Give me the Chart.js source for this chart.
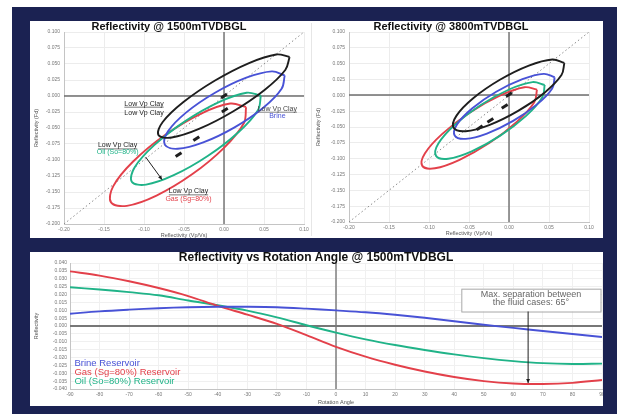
<!DOCTYPE html>
<html>
<head>
<meta charset="utf-8">
<script src="https://cdn.jsdelivr.net/npm/chart.js@4.4.0/dist/chart.umd.min.js"></script>
<style>
  body { margin: 0; background: #fff; width: 624px; height: 414px; overflow: hidden; position: relative; }
  .frame { position: absolute; left: 12px; top: 7px; width: 605px; height: 407px; background: #1b2252; }
  .panel { position: absolute; background: #fff; }
  canvas { position: absolute; }
</style>
</head>
<body>
<div class="frame"></div>
<div class="panel" style="left:30px;top:21px;width:573px;height:217px"></div>
<div class="panel" style="left:30px;top:252px;width:573px;height:154px"></div>
<div style="position:absolute;left:311px;top:23px;width:1px;height:213px;background:#e6e6e6"></div>
<canvas id="shallow" width="281" height="217" style="left:30px;top:21px"></canvas>
<canvas id="deep" width="291" height="217" style="left:312px;top:21px"></canvas>
<canvas id="rotation" width="573" height="154" style="left:30px;top:252px"></canvas>
<script>
// ---- 1500m crossplot: ellipse outlines (x, y) ----
const shallowClay = [[0.082,0.061],[0.0654,0.0649],[0.0313,0.0515],[-0.0112,0.0242],[-0.0507,-0.0095],[-0.0766,-0.0407],[-0.082,-0.061],[-0.0654,-0.0649],[-0.0313,-0.0515],[0.0112,-0.0242],[0.0507,0.0095],[0.0766,0.0407],[0.082,0.061]];
const shallowBrine = [[0.0759,0.0322],[0.0598,0.0385],[0.0279,0.0286],[-0.0112,0.0051],[-0.0471,-0.0256],[-0.0700,-0.0553],[-0.0739,-0.0762],[-0.0578,-0.0825],[-0.0259,-0.0726],[0.0132,-0.0491],[0.0491,-0.0184],[0.0720,0.0113],[0.0759,0.0322]];
const shallowOil = [[0.0461,0.0005],[0.0282,0.0051],[-0.0064,-0.0096],[-0.0488,-0.0396],[-0.0872,-0.0768],[-0.1116,-0.1113],[-0.1153,-0.1339],[-0.0974,-0.1385],[-0.0628,-0.1238],[-0.0204,-0.0938],[0.0180,-0.0566],[0.0424,-0.0221],[0.0461,0.0005]];
const shallowGas = [[0.0276,-0.0172],[0.0078,-0.0118],[-0.0292,-0.0278],[-0.0737,-0.0610],[-0.1136,-0.1024],[-0.1384,-0.1408],[-0.1412,-0.1662],[-0.1214,-0.1716],[-0.0844,-0.1556],[-0.0399,-0.1224],[0.0000,-0.0810],[0.0248,-0.0426],[0.0276,-0.0172]];
const shallowCentres = [[0,0],[0.001,-0.022],[-0.0346,-0.0667],[-0.0568,-0.0917]];

// ---- 3800m crossplot ----
const deepClay = [[0.0692,0.0512],[0.0542,0.0566],[0.0248,0.0470],[-0.0114,0.0246],[-0.0444,-0.0042],[-0.0656,-0.0320],[-0.0692,-0.0512],[-0.0542,-0.0566],[-0.0248,-0.0470],[0.0114,-0.0246],[0.0444,0.0042],[0.0656,0.0320],[0.0692,0.0512]];
const deepBrine = [[0.0571,0.0286],[0.0434,0.0339],[0.0168,0.0255],[-0.0160,0.0056],[-0.0458,-0.0205],[-0.0648,-0.0457],[-0.0679,-0.0634],[-0.0542,-0.0687],[-0.0276,-0.0603],[0.0052,-0.0404],[0.0350,-0.0143],[0.0540,0.0109],[0.0571,0.0286]];
const deepOil = [[0.0446,0.0164],[0.0293,0.0209],[0.0000,0.0092],[-0.0357,-0.0156],[-0.0680,-0.0468],[-0.0883,-0.0761],[-0.0912,-0.0956],[-0.0759,-0.1001],[-0.0466,-0.0884],[-0.0109,-0.0636],[0.0214,-0.0324],[0.0417,-0.0031],[0.0446,0.0164]];
const deepGas = [[0.0350,0.0090],[0.0192,0.0128],[-0.0116,-0.0006],[-0.0492,-0.0274],[-0.0834,-0.0608],[-0.1050,-0.0914],[-0.1084,-0.1114],[-0.0926,-0.1152],[-0.0618,-0.1018],[-0.0242,-0.0750],[0.0100,-0.0416],[0.0316,-0.0110],[0.0350,0.0090]];
const deepCentres = [[0,0.001],[-0.0054,-0.0174],[-0.0233,-0.0396],[-0.0367,-0.0512]];

const diagonal = [-0.2, 0.1];

// ---- reflectivity vs rotation angle ----
const angles = [-90,-80,-70,-60,-50,-40,-30,-20,-10,0,10,20,30,40,50,60,70,80,90];
const brine = [0.0078,0.0093,0.0104,0.0113,0.0119,0.0122,0.0122,0.0119,0.0110,0.0099,0.0087,0.0071,0.0052,0.0030,0.0008,-0.0012,-0.0032,-0.0051,-0.0070];
const gas = [0.0347,0.0320,0.0284,0.0241,0.0190,0.0128,0.0072,0.0014,-0.0058,-0.0133,-0.0195,-0.0246,-0.0289,-0.0324,-0.0350,-0.0365,-0.0368,-0.0361,-0.0343];
const oil = [0.0246,0.0232,0.0215,0.0195,0.0162,0.0132,0.0098,0.0055,0.0005,-0.0042,-0.0085,-0.0121,-0.0152,-0.0180,-0.0204,-0.0223,-0.0236,-0.0241,-0.0239];

const BLUE = '#4852d6', RED = '#e3404a', GREEN = '#20b388', BLACK = '#1e1e1e';
const FONT = "'Liberation Sans', Arial, sans-serif";

Chart.defaults.font.family = FONT;
Chart.defaults.animation = false;
Chart.defaults.plugins.legend.display = false;
Chart.defaults.plugins.tooltip.enabled = false;

const toXY = pts => pts.map(p => ({ x: p[0], y: p[1] }));
const fmt = (v, d) => (Math.abs(v) < 1e-9 ? 0 : v).toFixed(d);

function outline(points, color) {
  return { data: toXY(points), borderColor: color, borderWidth: 1.9, pointRadius: 0, showLine: true, tension: 0.37 };
}

function centres(points) {
  return { data: toXY(points), pointStyle: 'line', rotation: -33, pointRadius: 3.5, borderWidth: 3, borderColor: BLACK, showLine: false };
}

function arrow(ctx, x1, y1, x2, y2) {
  ctx.beginPath();
  ctx.moveTo(x1, y1);
  ctx.lineTo(x2, y2);
  ctx.stroke();
  const a = Math.atan2(y2 - y1, x2 - x1), s = 4.5;
  ctx.beginPath();
  ctx.moveTo(x2, y2);
  ctx.lineTo(x2 - s * Math.cos(a - 0.45), y2 - s * Math.sin(a - 0.45));
  ctx.lineTo(x2 - s * Math.cos(a + 0.45), y2 - s * Math.sin(a + 0.45));
  ctx.closePath();
  ctx.fill();
}

// zero lines, titles, axis titles and the little annotations
function notes(cfg) {
  return {
    id: 'notes',
    beforeDatasetsDraw(chart) {
      const { ctx, chartArea: area } = chart;
      const x0 = Math.round(chart.scales.x.getPixelForValue(0));
      const y0 = Math.round(chart.scales.y.getPixelForValue(0));
      ctx.save();
      ctx.strokeStyle = cfg.zeroColor;
      ctx.lineWidth = cfg.zeroX;
      ctx.beginPath();
      ctx.moveTo(x0, area.top);
      ctx.lineTo(x0, area.bottom);
      ctx.stroke();
      ctx.lineWidth = cfg.zeroY;
      ctx.beginPath();
      ctx.moveTo(area.left, y0);
      ctx.lineTo(area.right, y0);
      ctx.stroke();
      ctx.restore();
    },
    afterDraw(chart) {
      const { ctx, chartArea: area } = chart;
      const sx = chart.scales.x, sy = chart.scales.y;
      ctx.save();
      ctx.textAlign = 'center';
      ctx.textBaseline = 'middle';
      ctx.fillStyle = '#111';
      ctx.font = cfg.titleFont;
      ctx.fillText(cfg.title, cfg.titleX, 6);

      ctx.fillStyle = '#555';
      ctx.font = '5.5px ' + FONT;
      ctx.fillText(cfg.xTitle, (area.left + area.right) / 2, cfg.xTitleY);
      ctx.save();
      ctx.translate(cfg.yTitleX, (area.top + area.bottom) / 2);
      ctx.rotate(-Math.PI / 2);
      ctx.fillText(cfg.yTitle, 0, 0);
      ctx.restore();

      (cfg.labels || []).forEach(l => {
        const px = sx.getPixelForValue(l.x), py = sy.getPixelForValue(l.y);
        ctx.font = l.font;
        ctx.fillStyle = l.color;
        ctx.textAlign = l.align || 'center';
        ctx.fillText(l.text, px, py);
        if (l.underline) {
          const w = ctx.measureText(l.text).width;
          ctx.strokeStyle = l.color;
          ctx.lineWidth = 0.6;
          ctx.beginPath();
          ctx.moveTo(px - w / 2, py + 3.5);
          ctx.lineTo(px + w / 2, py + 3.5);
          ctx.stroke();
        }
      });

      if (cfg.box) {
        const b = cfg.box;
        const x1 = sx.getPixelForValue(b.x1), x2 = sx.getPixelForValue(b.x2);
        const y1 = sy.getPixelForValue(b.y1), y2 = sy.getPixelForValue(b.y2);
        ctx.fillStyle = '#fff';
        ctx.fillRect(x1, y1, x2 - x1, y2 - y1);
        ctx.strokeStyle = '#a8a8a8';
        ctx.lineWidth = 1;
        ctx.strokeRect(x1 + 0.5, y1 + 0.5, x2 - x1, y2 - y1);
        ctx.fillStyle = '#666';
        ctx.font = '9px ' + FONT;
        ctx.textAlign = 'center';
        b.lines.forEach((t, i) => ctx.fillText(t, (x1 + x2) / 2, y1 + 6 + i * 8));
      }

      ctx.strokeStyle = BLACK;
      ctx.fillStyle = BLACK;
      ctx.lineWidth = 1;
      (cfg.arrows || []).forEach(a => {
        arrow(ctx, sx.getPixelForValue(a.x1), sy.getPixelForValue(a.y1), sx.getPixelForValue(a.x2), sy.getPixelForValue(a.y2));
      });
      ctx.restore();
    }
  };
}

// fixed axis boxes, and no extra room for labels that poke past the plot
const fixHeight = h => s => { s.height = h; s.paddingLeft = 0; s.paddingRight = 0; };
const fixWidth = w => s => { s.width = w; s.paddingTop = 0; s.paddingBottom = 0; };

function crossScales(yWidth, xHeight) {
  const grid = { color: '#ececec', drawTicks: false };
  const tickFont = { size: 5 };
  return {
    x: {
      type: 'linear', min: -0.2, max: 0.1,
      grid, border: { color: '#c4c4c4' },
      ticks: { stepSize: 0.05, autoSkip: false, maxRotation: 0, padding: 3, font: tickFont, color: '#777', callback: v => fmt(v, 2) },
      afterFit: fixHeight(xHeight)
    },
    y: {
      type: 'linear', min: -0.2, max: 0.1,
      grid, border: { color: '#c4c4c4' },
      ticks: { stepSize: 0.025, autoSkip: false, padding: 4, font: tickFont, color: '#777', callback: v => fmt(v, 3) },
      afterFit: fixWidth(yWidth)
    }
  };
}

function crossplot(id, sets, padRight, yWidth, xHeight, cfg) {
  const diag = { data: diagonal.map(v => ({ x: v, y: v })), borderColor: '#8a8a8a', borderWidth: 1, borderDash: [1.5, 2.5], pointRadius: 0, showLine: true };
  new Chart(document.getElementById(id), {
    type: 'scatter',
    data: {
      datasets: [
        centres(sets.centres),
        outline(sets.clay, BLACK),
        outline(sets.brine, BLUE),
        outline(sets.oil, GREEN),
        outline(sets.gas, RED),
        diag
      ]
    },
    options: {
      responsive: false,
      layout: { padding: { top: 11, right: padRight, left: 0, bottom: 0 } },
      scales: crossScales(yWidth, xHeight)
    },
    plugins: [notes(Object.assign({ zeroColor: '#6e6e6e', zeroX: 1.4, zeroY: 1.4 }, cfg))]
  });
}

const small = '7px ' + FONT;

crossplot('shallow', { clay: shallowClay, brine: shallowBrine, oil: shallowOil, gas: shallowGas, centres: shallowCentres }, 2, 34, 14, {
  title: 'Reflectivity @ 1500mTVDBGL', titleX: 139, titleFont: 'bold 11px ' + FONT,
  xTitle: 'Reflectivity (Vp/Vs)', xTitleY: 214,
  yTitle: 'Reflectivity (Fd)', yTitleX: 6,
  labels: [
    { x: -0.100, y: -0.012, text: 'Low Vp Clay', color: BLACK, font: small, underline: true },
    { x: -0.100, y: -0.026, text: 'Low Vp Clay', color: BLACK, font: small },
    { x: 0.0667, y: -0.0198, text: 'Low Vp Clay', color: '#444', font: small, underline: true },
    { x: 0.0667, y: -0.0308, text: 'Brine', color: BLUE, font: small },
    { x: -0.133, y: -0.0772, text: 'Low Vp Clay', color: BLACK, font: small, underline: true },
    { x: -0.133, y: -0.0881, text: 'Oil (So=80%)', color: GREEN, font: small },
    { x: -0.0444, y: -0.149, text: 'Low Vp Clay', color: BLACK, font: small, underline: true },
    { x: -0.0444, y: -0.161, text: 'Gas (Sg=80%)', color: RED, font: small }
  ],
  arrows: [{ x1: -0.098, y1: -0.0953, x2: -0.0774, y2: -0.1307 }]
});

crossplot('deep', { clay: deepClay, brine: deepBrine, oil: deepOil, gas: deepGas, centres: deepCentres }, 14, 37, 16, {
  title: 'Reflectivity @ 3800mTVDBGL', titleX: 139, titleFont: 'bold 11px ' + FONT,
  xTitle: 'Reflectivity (Vp/Vs)', xTitleY: 212,
  yTitle: 'Reflectivity (Fd)', yTitleX: 6
});

const series = vals => vals.map((v, i) => ({ x: angles[i], y: v }));
const curve = (label, vals, color) => ({ label, data: series(vals), borderColor: color, borderWidth: 1.9, pointRadius: 0, showLine: true, tension: 0.35 });

const legendFont = '9.5px ' + FONT;

new Chart(document.getElementById('rotation'), {
  type: 'scatter',
  data: {
    datasets: [
      curve('Brine Reservoir', brine, BLUE),
      curve('Gas (Sg=80%) Reservoir', gas, RED),
      curve('Oil (So=80%) Reservoir', oil, GREEN)
    ]
  },
  options: {
    responsive: false,
    layout: { padding: { top: 11, right: 1, left: 0, bottom: 0 } },
    scales: {
      x: {
        type: 'linear', min: -90, max: 90,
        grid: { color: '#f0f0f0', drawTicks: false },
        border: { color: '#c4c4c4' },
        ticks: { stepSize: 10, autoSkip: false, maxRotation: 0, padding: 3, font: { size: 5 }, color: '#777' },
        afterFit: fixHeight(17)
      },
      y: {
        type: 'linear', min: -0.04, max: 0.04,
        grid: { color: '#f0f0f0', drawTicks: false },
        border: { color: '#c4c4c4' },
        ticks: { stepSize: 0.005, autoSkip: false, padding: 3, font: { size: 5 }, color: '#777', callback: v => fmt(v, 3) },
        afterFit: fixWidth(40)
      }
    }
  },
  plugins: [notes({
    zeroColor: '#777', zeroX: 1.4, zeroY: 2,
    title: 'Reflectivity vs Rotation Angle @ 1500mTVDBGL', titleX: 286, titleFont: 'bold 12px ' + FONT,
    xTitle: 'Rotation Angle', xTitleY: 150,
    yTitle: 'Reflectivity', yTitleX: 6,
    labels: [
      { x: -88.5, y: -0.0239, text: 'Brine Reservoir', color: BLUE, font: legendFont, align: 'left' },
      { x: -88.5, y: -0.0297, text: 'Gas (Sg=80%) Reservoir', color: RED, font: legendFont, align: 'left' },
      { x: -88.5, y: -0.0354, text: 'Oil (So=80%) Reservoir', color: GREEN, font: legendFont, align: 'left' }
    ],
    box: { x1: 42.4, x2: 89.5, y1: 0.0237, y2: 0.0092, lines: ['Max. separation between', 'the fluid cases: 65°'] },
    arrows: [{ x1: 65, y1: 0.0092, x2: 65, y2: -0.0362 }]
  })]
});
</script>
</body>
</html>
